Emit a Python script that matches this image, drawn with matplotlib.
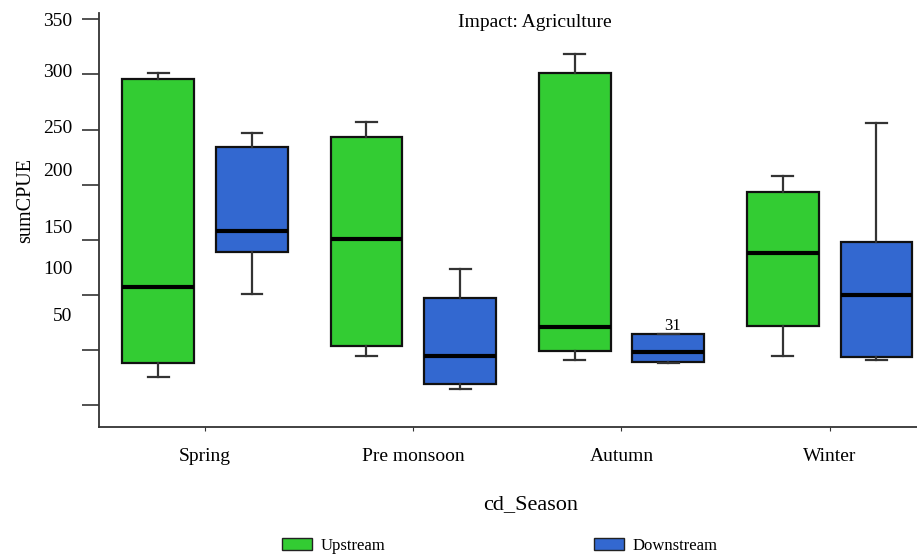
import numpy as np
from matplotlib import pyplot as plt
from matplotlib.patches import Patch

seasons = ['Spring', 'Pre monsoon', 'Autumn', 'Winter']

# box stats: whisker low, q1, median, q3, whisker high
up_wlo = [25, 44, 41, 44]
up_q1 = [38, 53, 49, 72]
up_med = [107, 151, 71, 138]
up_q3 = [296, 243, 301, 193]
up_whi = [301, 257, 319, 208]

down_wlo = [101, 14, 38, 41]
down_q1 = [139, 19, 39, 43]
down_med = [158, 44, 48, 100]
down_q3 = [234, 97, 64, 148]
down_whi = [247, 123, 64, 256]

ytick_vals = [350, 300, 250, 200, 150, 100, 50, 0]
ylabels = ['350', '300', '250', '200', '150', '100', '50']
ylabel_pos = [350, 304, 253, 214, 162, 125, 82]

green = '#33cc33'
blue = '#3368d0'

plt.rcParams['font.family'] = ['Liberation Serif', 'DejaVu Serif']

fig = plt.figure(figsize=(9.17, 5.58), dpi=100)
ax = fig.add_axes([0.108, 0.235, 0.892, 0.742])

def stats(wlo, q1, med, q3, whi):
    return [dict(whislo=a, q1=b, med=c, q3=d, whishi=e, fliers=[])
            for a, b, c, d, e in zip(wlo, q1, med, q3, whi)]

x = np.arange(len(seasons))
off = 0.225
for st, pos, col in [(stats(up_wlo, up_q1, up_med, up_q3, up_whi), x - off, green),
                     (stats(down_wlo, down_q1, down_med, down_q3, down_whi), x + off, blue)]:
    ax.bxp(st, positions=pos, widths=0.345, patch_artist=True, showfliers=False,
           capwidths=0.1,
           boxprops=dict(facecolor=col, edgecolor='#111111', linewidth=1.6),
           medianprops=dict(color='black', linewidth=3),
           whiskerprops=dict(color='#333333', linewidth=1.6),
           capprops=dict(color='#333333', linewidth=1.6))

# case label over the autumn downstream box
ax.annotate('31', (2 + off + 0.02, down_q3[2]), xytext=(0, 0), textcoords='offset points',
            ha='center', va='bottom', fontsize=12)

ax.set_xlim(-0.51, 3.42)
ax.set_ylim(-20, 356)
ax.set_xticks(x, seasons, fontsize=14)
ax.tick_params(axis='x', length=3, pad=12, color='#333333')
ax.yaxis.remove_overlapping_locs = False
ax.set_yticks(ytick_vals, [''] * len(ytick_vals))
ax.tick_params(axis='y', which='major', length=12, width=1.2, color='#333333')
ax.set_yticks(ylabel_pos, ylabels, minor=True, fontsize=14)
ax.tick_params(axis='y', which='minor', length=0, pad=19)

for s in ['top', 'right']:
    ax.spines[s].set_visible(False)
for s in ['left', 'bottom']:
    ax.spines[s].set_color('#333333')
    ax.spines[s].set_linewidth(1.3)

ax.set_ylabel('sumCPUE', fontsize=14.5)
ax.yaxis.set_label_coords(-0.078, 0.546)
ax.set_xlabel('cd_Season', fontsize=16)
ax.xaxis.set_label_coords(0.528, -0.165)
ax.text(0.533, 0.977, 'Impact: Agriculture', transform=ax.transAxes,
        ha='center', va='center', fontsize=14)

handles = [Patch(facecolor=green, edgecolor='#222222', label='Upstream'),
           Patch(facecolor=blue, edgecolor='#222222', label='Downstream')]
fig.legend(handles=handles, ncol=2, loc='center', bbox_to_anchor=(0.545, 0.022),
           frameon=False, fontsize=12, columnspacing=12.5, handlelength=1.8,
           handleheight=0.7, handletextpad=0.5)

plt.savefig('out.png')
